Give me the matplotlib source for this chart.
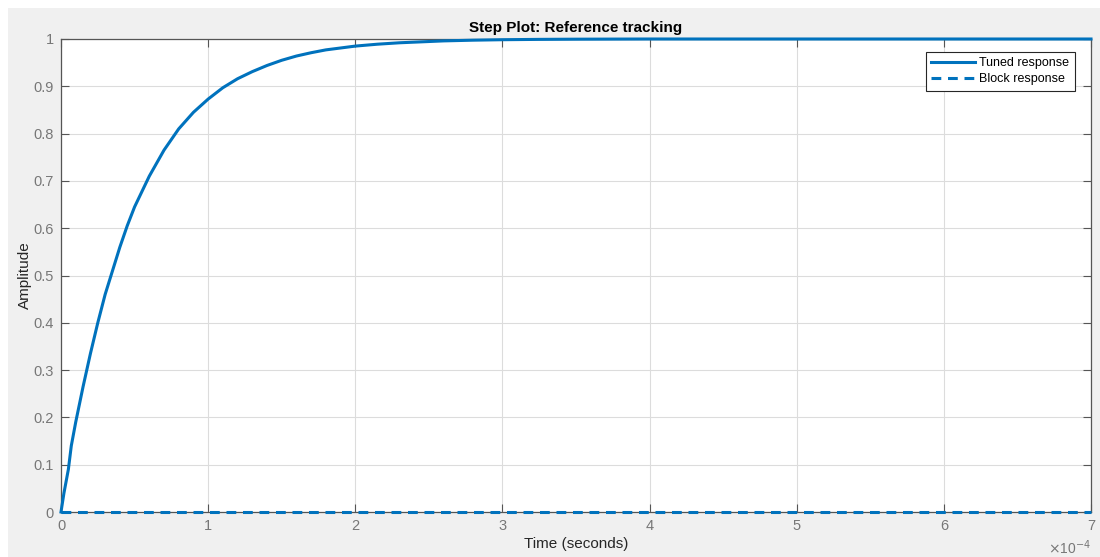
import numpy as np
import matplotlib.pyplot as plt
from matplotlib.patches import Rectangle

plt.rcParams['font.family'] = ['Liberation Sans', 'DejaVu Sans']

# time in units of 1e-4 s
t_tuned = [0, 0.02, 0.05, 0.07, 0.10, 0.15, 0.20, 0.25, 0.30, 0.35, 0.40, 0.45,
           0.50, 0.60, 0.70, 0.80, 0.90, 1.0, 1.1, 1.2, 1.3, 1.4, 1.5, 1.6, 1.7,
           1.8, 1.9, 2.0, 2.15, 2.3, 2.45, 2.6, 2.8, 3.0, 3.25, 3.5, 3.75, 4.0,
           5.0, 6.0, 7.0]
y_tuned = [0, 0.04, 0.09, 0.14, 0.19, 0.265, 0.335, 0.40, 0.46, 0.51, 0.56, 0.605,
           0.645, 0.71, 0.765, 0.81, 0.845, 0.873, 0.897, 0.916, 0.931, 0.944,
           0.955, 0.964, 0.971, 0.977, 0.981, 0.985, 0.989, 0.992, 0.994, 0.996,
           0.9975, 0.9985, 0.9992, 0.9996, 0.9998, 1.0, 1.0, 1.0, 1.0]
t_block = [0, 7.0]
y_block = [0, 0]

xticks = [0, 1, 2, 3, 4, 5, 6, 7]
yticks = [0, 0.1, 0.2, 0.3, 0.4, 0.5, 0.6, 0.7, 0.8, 0.9, 1]
ytick_labels = ['0', '0.1', '0.2', '0.3', '0.4', '0.5', '0.6', '0.7', '0.8', '0.9', '1']

blue = '#0072BD'
tick_gray = '#777777'

fig = plt.figure(figsize=(11, 5.57), dpi=100, facecolor='white')
fig.patches.append(Rectangle((8 / 1100, 0), 1, 1 - 8 / 557, transform=fig.transFigure,
                             facecolor='#f0f0f0', edgecolor='none', zorder=-10))

ax = fig.add_axes([61 / 1100, 1 - 512 / 557, 1030 / 1100, 473 / 557])
ax.set_facecolor('white')

ax.plot(t_tuned, y_tuned, color=blue, lw=2.2, label='Tuned response',
        clip_on=False, zorder=5, solid_joinstyle='round')
ax.plot(t_block, y_block, color=blue, lw=2.2, ls=(0, (3.2, 2.2)), label='Block response',
        clip_on=False, zorder=5)

ax.set_xlim(0, 7)
ax.set_ylim(0, 1)
ax.set_xticks(xticks)
ax.set_xticklabels([str(v) for v in xticks])
ax.set_yticks(yticks)
ax.set_yticklabels(ytick_labels)
ax.grid(True, color='#dcdcdc', lw=0.8)
ax.set_axisbelow(True)
ax.tick_params(direction='in', length=6, width=0.8, color='#555555',
               labelcolor=tick_gray, labelsize=10.5, top=True, right=True, pad=5)
for s in ax.spines.values():
    s.set_color('#555555')
    s.set_linewidth(0.9)

ax.set_title('Step Plot: Reference tracking', fontsize=11, fontweight='bold', pad=5)
ax.set_xlabel('Time (seconds)', fontsize=11, color='#262626', labelpad=3)
ax.set_ylabel('Amplitude', fontsize=11, color='#262626', labelpad=1)
ax.text(1.0, -0.056, r'$\times$10$^{-4}$', transform=ax.transAxes, ha='right', va='top',
        fontsize=10, color=tick_gray)

leg = ax.legend(loc='upper right', bbox_to_anchor=(0.9845, 0.973), fontsize=9,
                frameon=True, fancybox=False, edgecolor='#262626', framealpha=1,
                handlelength=3.5, borderpad=0.45, labelspacing=0.3,
                handletextpad=0.35, borderaxespad=0)
leg.get_frame().set_linewidth(0.8)

fig.savefig('out.png', dpi=100, facecolor=fig.get_facecolor())
